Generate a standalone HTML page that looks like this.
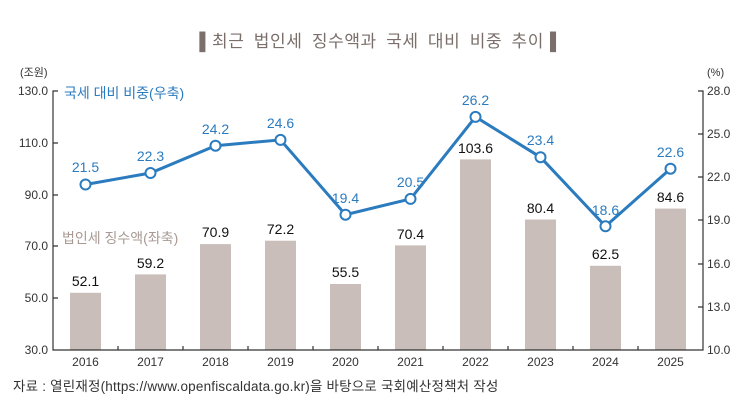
<!DOCTYPE html>
<html><head><meta charset="utf-8"><style>
body{margin:0;background:#fff;}
svg{display:block;font-family:"Liberation Sans","Noto Sans CJK KR",sans-serif;}
</style></head><body>
<svg width="756" height="413" viewBox="0 0 756 413" xmlns="http://www.w3.org/2000/svg">
<text x="378" y="47" text-anchor="middle" font-size="17" fill="#7a6f6a" letter-spacing="0.6" word-spacing="4">▌최근 법인세 징수액과 국세 대비 비중 추이▐</text>
<text x="20" y="76" font-size="11" fill="#333">(조원)</text>
<text x="707" y="76" font-size="11" fill="#333">(%)</text>
<g font-size="12" fill="#333" text-anchor="end">
<text x="48" y="95">130.0</text><text x="48" y="147">110.0</text><text x="48" y="199">90.0</text><text x="48" y="250">70.0</text><text x="48" y="302">50.0</text><text x="48" y="354">30.0</text>
</g>
<g font-size="12" fill="#333">
<text x="707" y="95">28.0</text><text x="707" y="138">25.0</text><text x="707" y="181">22.0</text><text x="707" y="224">19.0</text><text x="707" y="268">16.0</text><text x="707" y="311">13.0</text><text x="707" y="354">10.0</text>
</g>
<g fill="#c9beb9">
<rect x="70" y="292.8" width="31" height="57.2"/><rect x="135" y="274.4" width="31" height="75.6"/><rect x="200" y="244.1" width="31" height="105.9"/><rect x="265" y="240.7" width="31" height="109.3"/><rect x="330" y="284" width="31" height="66"/><rect x="395" y="245.4" width="31" height="104.6"/><rect x="460" y="159.4" width="31" height="190.6"/><rect x="525" y="219.5" width="31" height="130.5"/><rect x="590" y="265.8" width="31" height="84.2"/><rect x="655" y="208.6" width="31" height="141.4"/>
</g>
<g stroke="#333" stroke-width="1.2" fill="none">
<path d="M58 91H53V350H703V91H698"/>
<path d="M53 143h5M53 195h5M53 246h5M53 298h5"/>
<path d="M703 134h-5M703 177h-5M703 220h-5M703 264h-5M703 307h-5"/>
<path d="M118 350v-4M183 350v-4M248 350v-4M313 350v-4M378 350v-4M443 350v-4M508 350v-4M573 350v-4M638 350v-4"/>
</g>
<g font-size="12" fill="#333" text-anchor="middle">
<text x="85.5" y="366">2016</text><text x="150.5" y="366">2017</text><text x="215.5" y="366">2018</text><text x="280.5" y="366">2019</text><text x="345.5" y="366">2020</text><text x="410.5" y="366">2021</text><text x="475.5" y="366">2022</text><text x="540.5" y="366">2023</text><text x="605.5" y="366">2024</text><text x="670.5" y="366">2025</text>
</g>
<g font-size="14" fill="#111" text-anchor="middle">
<text x="85.5" y="286">52.1</text><text x="150.5" y="268">59.2</text><text x="215.5" y="237">70.9</text><text x="280.5" y="234">72.2</text><text x="345.5" y="277">55.5</text><text x="410.5" y="239">70.4</text><text x="475.5" y="153">103.6</text><text x="540.5" y="213">80.4</text><text x="605.5" y="259">62.5</text><text x="670.5" y="202">84.6</text>
</g>
<text x="62" y="243" font-size="14" fill="#a89a93">법인세 징수액(좌축)</text>
<text x="64" y="98" font-size="14" fill="#2b7bbf">국세 대비 비중(우축)</text>
<polyline fill="none" stroke="#2b7bbf" stroke-width="3" points="85.5,184.5 150.5,173 215.5,145.7 280.5,139.9 345.5,214.7 410.5,198.9 475.5,116.9 540.5,157.2 605.5,226.3 670.5,168.7"/>
<g fill="#fff" stroke="#2b7bbf" stroke-width="2">
<circle cx="85.5" cy="184.5" r="5"/><circle cx="150.5" cy="173" r="5"/><circle cx="215.5" cy="145.7" r="5"/><circle cx="280.5" cy="139.9" r="5"/><circle cx="345.5" cy="214.7" r="5"/><circle cx="410.5" cy="198.9" r="5"/><circle cx="475.5" cy="116.9" r="5"/><circle cx="540.5" cy="157.2" r="5"/><circle cx="605.5" cy="226.3" r="5"/><circle cx="670.5" cy="168.7" r="5"/>
</g>
<g font-size="14" fill="#2b7bbf" text-anchor="middle">
<text x="85.5" y="172">21.5</text><text x="150.5" y="161">22.3</text><text x="215.5" y="134">24.2</text><text x="280.5" y="128">24.6</text><text x="345.5" y="203">19.4</text><text x="410.5" y="187">20.5</text><text x="475.5" y="105">26.2</text><text x="540.5" y="145">23.4</text><text x="605.5" y="215">18.6</text><text x="670.5" y="157">22.6</text>
</g>
<text x="13" y="391" font-size="13.5" fill="#333" letter-spacing="0.2">자료 : 열린재정(https://www.openfiscaldata.go.kr)을 바탕으로 국회예산정책처 작성</text>
</svg>
</body></html>
